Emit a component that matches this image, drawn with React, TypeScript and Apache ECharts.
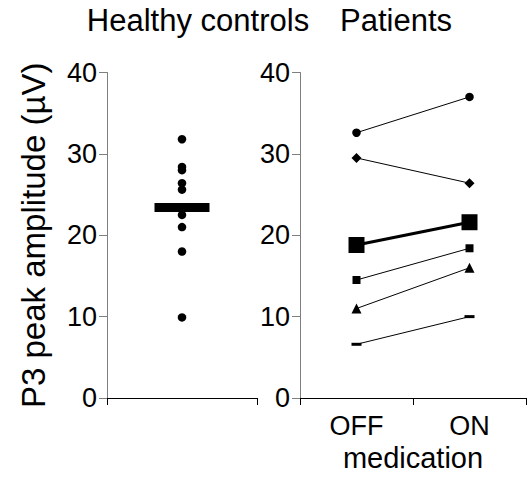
import React, { useEffect, useRef } from "react";
import * as echarts from "echarts";

// Healthy controls: individual P3 amplitudes (µV) and group mean
const controlValues = [31.8, 28.4, 28.0, 26.4, 25.6, 22.5, 21.0, 18.0, 9.9];
const controlMean = [23.4];

// Patients: OFF / ON medication
const conditions = ["OFF", "ON"];
const patientCircle = [32.6, 37.0];
const patientDiamond = [29.5, 26.4];
const patientSquare = [14.5, 18.4];
const patientTriangle = [11.0, 16.0];
const patientDash = [6.6, 10.0];
const patientMean = [18.8, 21.6];

const yTicks = { min: 0, max: 40, interval: 10 };

export default function App() {
  const ref = useRef<HTMLDivElement>(null);

  useEffect(() => {
    if (!ref.current) return;
    const chart = echarts.init(ref.current, null, { renderer: "svg" });
    const font = "'Liberation Sans', Arial, sans-serif";
    const gray = "#7f7f7f";

    const yAxisBase = {
      type: "value" as const,
      min: yTicks.min,
      max: yTicks.max,
      interval: yTicks.interval,
      splitLine: { show: false },
      axisLine: { show: true, lineStyle: { color: gray, width: 1 } },
      axisTick: { show: true, length: 8, lineStyle: { color: gray } },
      axisLabel: { color: "#000", fontSize: 27, fontFamily: font, margin: 10 },
    };

    const patientLine = (data: number[], symbol: string, size: any, width = 1) => ({
      type: "line" as const,
      xAxisIndex: 1,
      yAxisIndex: 1,
      data,
      symbol,
      symbolSize: size,
      showSymbol: true,
      lineStyle: { color: "#000", width },
      itemStyle: { color: "#000", borderWidth: 0, opacity: 1 },
      z: 3,
    });

    chart.setOption({
      animation: false,
      backgroundColor: "#fff",
      textStyle: { fontFamily: font },
      grid: [
        { left: 107, top: 72.5, width: 150, height: 325.5 },
        { left: 300, top: 72.5, width: 226, height: 325.5 },
      ],
      xAxis: [
        {
          type: "category",
          gridIndex: 0,
          data: [""],
          boundaryGap: true,
          axisLine: { lineStyle: { color: "#000", width: 1 } },
          axisTick: { show: true, length: 7, lineStyle: { color: "#000" } },
          axisLabel: { show: false },
        },
        {
          type: "category",
          gridIndex: 1,
          data: conditions,
          boundaryGap: true,
          axisLine: { lineStyle: { color: "#000", width: 1 } },
          axisTick: { show: true, length: 7, lineStyle: { color: "#000" } },
          axisLabel: { color: "#000", fontSize: 27, fontFamily: font, margin: 14 },
          name: "medication",
          nameLocation: "middle",
          nameGap: 38,
          nameTextStyle: { color: "#000", fontSize: 29, fontFamily: font },
        },
      ],
      yAxis: [
        {
          ...yAxisBase,
          gridIndex: 0,
          name: "P3 peak amplitude (µV)",
          nameLocation: "middle",
          nameRotate: 90,
          nameGap: 57,
          nameTextStyle: { color: "#000", fontSize: 33, fontFamily: font },
        },
        { ...yAxisBase, gridIndex: 1 },
      ],
      graphic: [
        {
          type: "text",
          x: 198,
          y: 20,
          style: {
            text: "Healthy controls",
            fontSize: 31,
            fontFamily: font,
            fill: "#000",
            textAlign: "center",
            textVerticalAlign: "middle",
          },
        },
        {
          type: "text",
          x: 396,
          y: 20,
          style: {
            text: "Patients",
            fontSize: 31,
            fontFamily: font,
            fill: "#000",
            textAlign: "center",
            textVerticalAlign: "middle",
          },
        },
      ],
      series: [
        {
          type: "scatter",
          xAxisIndex: 0,
          yAxisIndex: 0,
          data: controlValues.map((v) => [0, v]),
          symbol: "circle",
          symbolSize: 8.5,
          itemStyle: { color: "#000", opacity: 1 },
          z: 2,
        },
        {
          type: "scatter",
          xAxisIndex: 0,
          yAxisIndex: 0,
          data: controlMean.map((v) => [0, v]),
          symbol: "rect",
          symbolSize: [55, 9],
          itemStyle: { color: "#000", opacity: 1 },
          z: 3,
        },
        patientLine(patientCircle, "circle", 8.5),
        patientLine(patientDiamond, "diamond", 10),
        patientLine(patientSquare, "rect", 8),
        patientLine(patientTriangle, "triangle", 10),
        patientLine(patientDash, "rect", [10, 3]),
        patientLine(patientMean, "rect", 16, 3),
      ],
    });

    return () => chart.dispose();
  }, []);

  return (
    <div
      ref={ref}
      style={{ position: "fixed", left: 0, top: 0, width: 527, height: 485, background: "#fff" }}
    />
  );
}
